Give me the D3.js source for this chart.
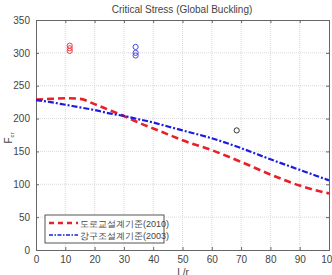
<!DOCTYPE html>
<html lang="ko">
<head>
<meta charset="UTF-8">
<title>Critical Stress (Global Buckling)</title>
<script src="https://cdnjs.cloudflare.com/ajax/libs/d3/7.8.5/d3.min.js"></script>
<style>
  body { margin: 0; background: #fff; }
  text { font-family: "Liberation Sans", Arial, sans-serif; fill: #444; }
</style>
</head>
<body>
<div id="chart"></div>
<script>
// slenderness ratio L/r
const lr = [0, 5, 10, 15, 20, 25, 30, 35, 40, 45, 50, 60, 70, 80, 90, 100];
// 도로교설계기준(2010)
const fcrRoad = [229, 230, 231, 230, 222, 213, 204, 194, 185, 176, 167, 152, 134, 115, 98, 86];
// 강구조설계기준(2003)
const fcrSteel = [228, 225, 221, 217, 213, 208, 204, 199, 194, 188, 182, 170, 155, 138, 122, 106];

// test points
const redPts = [[11.5, 303], [11.5, 307], [11.5, 311]];
const bluePts = [[34, 296], [34, 300], [34, 309]];
const blackPts = [[68.5, 182]];

const xTicks = [0, 10, 20, 30, 40, 50, 60, 70, 80, 90, 100];
const yTicks = [0, 50, 100, 150, 200, 250, 300, 350];

const W = 332, H = 275;
const m = { left: 36, right: 3, top: 20, bottom: 25 };

const svg = d3.select("#chart").append("svg")
    .attr("width", W).attr("height", H);

const x = d3.scaleLinear().domain([0, 100]).range([m.left, W - m.right]);
const y = d3.scaleLinear().domain([0, 350]).range([H - m.bottom, m.top]);

// grid
svg.append("g").selectAll("line").data(xTicks.slice(1, -1)).enter().append("line")
    .attr("x1", d => x(d)).attr("x2", d => x(d))
    .attr("y1", y(0)).attr("y2", y(350))
    .attr("stroke", "#d0d0d0").attr("stroke-width", 0.8).attr("stroke-dasharray", "1,1");
svg.append("g").selectAll("line").data(yTicks.slice(1, -1)).enter().append("line")
    .attr("x1", x(0)).attr("x2", x(100))
    .attr("y1", d => y(d)).attr("y2", d => y(d))
    .attr("stroke", "#d0d0d0").attr("stroke-width", 0.8).attr("stroke-dasharray", "1,1");

// axes
svg.append("g").attr("transform", `translate(0,${y(0)})`)
    .call(d3.axisBottom(x).tickValues(xTicks).tickSize(-3).tickPadding(6));
svg.append("g").attr("transform", `translate(${x(0)},0)`)
    .call(d3.axisLeft(y).tickValues(yTicks).tickSize(-3).tickPadding(6));
svg.append("g").attr("transform", `translate(0,${y(350)})`)
    .call(d3.axisTop(x).tickValues(xTicks).tickSize(-3).tickFormat(""));
svg.append("g").attr("transform", `translate(${x(100)},0)`)
    .call(d3.axisRight(y).tickValues(yTicks).tickSize(-3).tickFormat(""));
svg.selectAll(".domain").attr("stroke", "#666").attr("stroke-width", 1);
svg.selectAll(".tick line").attr("stroke", "#666");
svg.selectAll(".tick text").attr("font-size", 10).attr("fill", "#555")
    .attr("font-family", "'Liberation Sans', Arial, sans-serif");

// curves
const line = d3.line().x(d => x(d[0])).y(d => y(d[1])).curve(d3.curveMonotoneX);
svg.append("path").datum(lr.map((v, i) => [v, fcrRoad[i]]))
    .attr("d", line).attr("fill", "none")
    .attr("stroke", "#e8202a").attr("stroke-width", 2.6).attr("stroke-dasharray", "7,4");
svg.append("path").datum(lr.map((v, i) => [v, fcrSteel[i]]))
    .attr("d", line).attr("fill", "none")
    .attr("stroke", "#1c1ce0").attr("stroke-width", 2.2).attr("stroke-dasharray", "6,2,2,2");

// markers
function marks(pts, col) {
  svg.append("g").selectAll("circle").data(pts).enter().append("circle")
      .attr("cx", d => x(d[0])).attr("cy", d => y(d[1])).attr("r", 2.6)
      .attr("fill", "none").attr("stroke", col).attr("stroke-width", 1);
}
marks(redPts, "#e8404a");
marks(bluePts, "#4a4ae0");
marks(blackPts, "#333");

// title and labels
svg.append("text").attr("x", 182).attr("y", 13).attr("text-anchor", "middle")
    .attr("font-size", 10).attr("fill", "#555").text("Critical Stress (Global Buckling)");
svg.append("text").attr("x", 183).attr("y", 276).attr("text-anchor", "middle")
    .attr("font-size", 10).text("L/r");
const yl = svg.append("text").attr("transform", "translate(12,138) rotate(-90)")
    .attr("text-anchor", "middle").attr("font-size", 10);
yl.append("tspan").text("F");
yl.append("tspan").attr("font-size", 6).attr("dy", 2).text("cr");

// legend
const lg = svg.append("g").attr("transform", "translate(45,215)");
lg.append("rect").attr("width", 119).attr("height", 28)
    .attr("fill", "#fff").attr("stroke", "#555").attr("stroke-width", 1);
const items = [
  { name: "도로교설계기준(2010)", col: "#e8202a", dash: "5,4", w: 2.4 },
  { name: "강구조설계기준(2003)", col: "#1c1ce0", dash: "4,1.5,1.5,1.5", w: 1.6 }
];
items.forEach((it, i) => {
  const yy = 8 + i * 12;
  lg.append("line").attr("x1", 4).attr("x2", 33).attr("y1", yy).attr("y2", yy)
      .attr("stroke", it.col).attr("stroke-width", it.w).attr("stroke-dasharray", it.dash);
  lg.append("text").attr("x", 35).attr("y", yy + 3.5).attr("font-size", 9)
      .attr("font-family", "'Noto Sans CJK KR', sans-serif").attr("fill", "#666")
      .text(it.name);
});
</script>
</body>
</html>
